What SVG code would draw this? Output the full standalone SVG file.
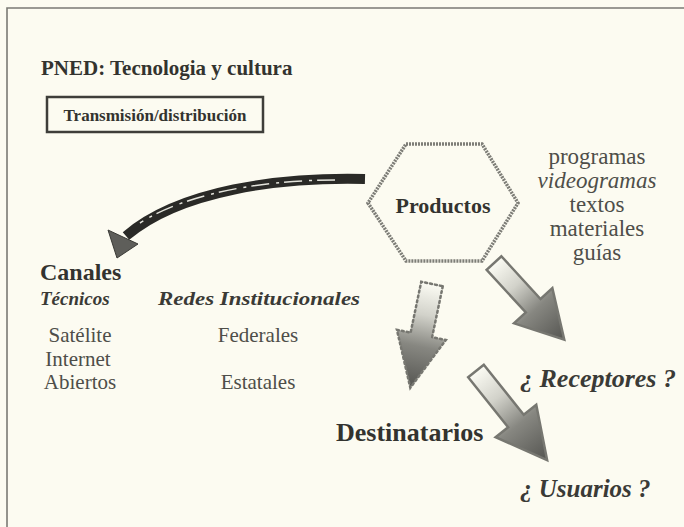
<svg xmlns="http://www.w3.org/2000/svg" width="684" height="527" viewBox="0 0 684 527">
  <defs>
    <linearGradient id="ag" x1="0" y1="0" x2="1" y2="0">
      <stop offset="0" stop-color="#fbfbf3"/>
      <stop offset="0.3" stop-color="#d2d2ca"/>
      <stop offset="0.6" stop-color="#878781"/>
      <stop offset="1" stop-color="#555551"/>
    </linearGradient>
    <style>
      .b { font-family: "Liberation Serif", "Times New Roman", serif; font-weight: bold; fill: #33332f; }
      .bi { font-family: "Liberation Serif", "Times New Roman", serif; font-weight: bold; font-style: italic; fill: #3a3a36; }
      .r { font-family: "Liberation Serif", "Times New Roman", serif; fill: #4e4e49; }
      .i { font-family: "Liberation Serif", "Times New Roman", serif; font-style: italic; fill: #4e4e49; }
      .blk { fill: url(#ag); stroke: #777771; stroke-width: 2.5; stroke-linejoin: miter; }
    </style>
  </defs>
  <rect x="0" y="0" width="684" height="527" fill="#fcfbf1"/>
  <g id="frame" fill="none" stroke="#7a7a74" stroke-width="1.6">
    <polyline points="7,527 7,8 684,8"/>
  </g>

  <g id="title">
    <text class="b" x="41" y="75" font-size="21">PNED: Tecnologia y cultura</text>
  </g>
  <g id="transmision">
    <rect x="47" y="97" width="216" height="35" fill="none" stroke="#3e3e3a" stroke-width="2.5"/>
    <text class="b" x="155" y="121" font-size="17" text-anchor="middle">Transmisión/distribución</text>
  </g>

  <g id="productos">
    <polygon points="406,144 482,144 518,203 482,261 406,261 368,203" fill="none" stroke="#7d7d77" stroke-width="3.5" stroke-dasharray="2 1"/>
    <text class="b" x="443" y="213" font-size="22" text-anchor="middle">Productos</text>
  </g>

  <g id="lista-productos">
    <text class="r" x="597" y="164" font-size="23" text-anchor="middle">programas</text>
    <text class="i" x="597" y="188" font-size="23" text-anchor="middle">videogramas</text>
    <text class="r" x="597" y="212" font-size="23" text-anchor="middle">textos</text>
    <text class="r" x="597" y="236" font-size="23" text-anchor="middle">materiales</text>
    <text class="r" x="597" y="260" font-size="23" text-anchor="middle">guías</text>
  </g>

  <g id="canales">
    <text class="b" x="40" y="280" font-size="24">Canales</text>
  </g>
  <g id="tecnicos">
    <text class="bi" x="40" y="305" font-size="19">Técnicos</text>
    <text class="r" x="80" y="342" font-size="21" text-anchor="middle">Satélite</text>
    <text class="r" x="78" y="366" font-size="21" text-anchor="middle">Internet</text>
    <text class="r" x="80" y="389" font-size="21" text-anchor="middle">Abiertos</text>
  </g>
  <g id="redes">
    <text class="bi" x="158" y="305" font-size="19" textLength="202" lengthAdjust="spacingAndGlyphs">Redes Institucionales</text>
    <text class="r" x="258" y="342" font-size="21" text-anchor="middle">Federales</text>
    <text class="r" x="258" y="389" font-size="21" text-anchor="middle">Estatales</text>
  </g>

  <g id="destinatarios">
    <text class="b" x="336" y="441" font-size="26">Destinatarios</text>
  </g>
  <g id="receptores">
    <text class="bi" x="520" y="387" font-size="26">¿ Receptores ?</text>
  </g>
  <g id="usuarios">
    <text class="bi" x="520" y="497" font-size="25">¿ Usuarios ?</text>
  </g>

  <g id="connectors">
    <g id="arrow-canales">
      <path d="M 365 179 C 280 177, 180 190, 126 236" fill="none" stroke="#2a2a27" stroke-width="10"/>
      <path d="M 335 180 C 270 180, 190 191, 140 223" fill="none" stroke="#e4e4dc" stroke-width="1.5" stroke-dasharray="18 5 3 7"/>
      <polygon points="108,230 138,244 117,258" fill="#5e5e5a" stroke="#3a3a36" stroke-width="1"/>
    </g>
    <polygon id="arrow-destinatarios" class="blk" transform="translate(432,284) rotate(101.8)" points="0,-11 52,-11 52,-25 106,0 52,25 52,11 0,11" stroke-dasharray="2 3" stroke-linecap="round"/>
    <polygon id="arrow-receptores" class="blk" transform="translate(494,263) rotate(47.5)" points="0,-10 58,-10 58,-26 104,0 58,26 58,10 0,10"/>
    <polygon id="arrow-usuarios" class="blk" transform="translate(476,371) rotate(51.4)" points="0,-10 64,-10 64,-26 114,0 64,26 64,10 0,10"/>
  </g>
</svg>
